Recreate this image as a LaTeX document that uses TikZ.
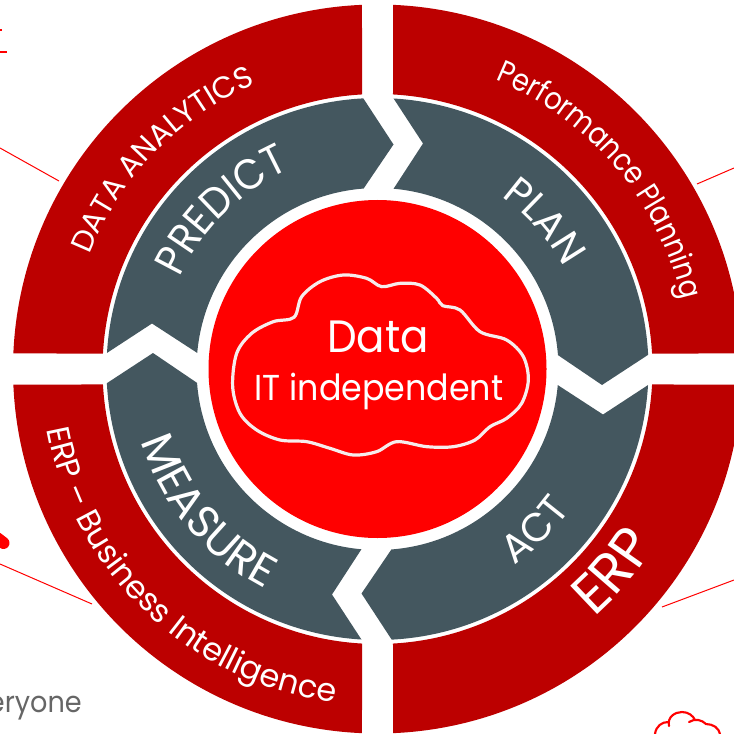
\documentclass[tikz,border=0pt]{standalone}
\usepackage{fontspec}
\usetikzlibrary{decorations.text}
\setmainfont{Poppins}[FakeStretch=0.925]
\newfontfamily\arcfont{Poppins}
\newfontfamily\arcmid{Poppins}[FakeStretch=0.93]
\newfontfamily\arcnarrow{Poppins}[FakeStretch=0.87]
\definecolor{ringred}{HTML}{BC0000}
\definecolor{slate}{HTML}{44575F}
\definecolor{corered}{HTML}{FF0000}
\definecolor{wordgrey}{HTML}{666666}
\definecolor{cloudline}{HTML}{F6ECEC}
\tikzset{
  ringseg/.style={fill=ringred,draw=none},
  stepseg/.style={fill=slate,draw=none},
  leader/.style={draw=corered,line width=0.75pt},
  corelabel/.style={text=white,anchor=base,inner sep=0pt,outer sep=0pt},
  edgecloud/.style={draw=corered,line width=1.6pt,line cap=round},
}
\newcommand{\sz}[1]{\fontsize{#1}{#1}\selectfont}
% font command, font size, text, mid angle, radius, +1 clockwise / -1 counter-clockwise
\newcommand{\arclabel}[6]{%
  \path[decorate,decoration={text along path,text color=white,text align=center,
     text={|#1\sz{#2}|#3}}]
     ({#4+#6*70}:#5) arc[start angle={#4+#6*70},end angle={#4-#6*70},radius=#5];}
\begin{document}
\begin{tikzpicture}[x=0.75pt,y=0.75pt]
\useasboundingbox (0,0) rectangle (734,733);
\clip (0,0) rectangle (734,733);
\begin{scope}[shift={(377.5,364)}]
  % leaders
  \coordinate (la1) at (-377.5,221); \coordinate (lb1) at (-318.5,188);
  \coordinate (la2) at (356.5,201);  \coordinate (lb2) at (319.5,185);
  \coordinate (la3) at (-377.5,-195);\coordinate (lb3) at (-285.5,-235);
  \coordinate (la4) at (356.5,-211); \coordinate (lb4) at (284.5,-238);
  \draw[leader] (la1) -- (lb1);
  \draw[leader] (la2) -- (lb2);
  \draw[leader] (la3) -- (lb3);
  \draw[leader] (la4) -- (lb4);
  % outer ring and step ring
  \foreach \a in {0,-90,-180,-270}{
    \fill[ringseg,rotate=\a] (87.56:364.5) arc[start angle=87.56,end angle=2.44,radius=364.5]
       -- (3.23:275) arc[start angle=3.23,end angle=86.77,radius=275] -- cycle;
    \fill[stepseg,rotate=\a] (86.6:271) -- (45.5,225.5) -- (84.9:181)
       arc[start angle=84.9,end angle=4.4,radius=181]
       -- (224.5,-16) -- (3:271)
       arc[start angle=3,end angle=86.6,radius=271] -- cycle;
  }
  % core
  \node[circle,fill=corered,draw=none,minimum size=253.5pt,inner sep=0pt] (core) at (0,0) {};
  \begin{scope}[shift={(-157.5,109)},x=0.25pt,y=-0.25pt]
    \draw[cloudline,line width=2.4pt,line join=round] plot[smooth cycle,tension=0.55] coordinates {
      (222,172) (245,110) (300,65) (370,45) (440,55) (485,80) (540,70) (600,75) (650,115)
      (668,137) (720,150) (780,215) (860,240) (910,290) (925,360) (905,430) (860,475)
      (810,500) (765,540) (700,560) (620,560) (530,545) (470,575) (400,585) (330,565)
      (260,545) (180,540) (110,510) (60,460) (38,380) (50,280) (95,220) (160,185)};
  \end{scope}
  \node[corelabel,font=\sz{34}] (data) at (0.5,17) {Data};
  \node[corelabel,font=\sz{27}] (itind) at (1.5,-31) {IT independent};
  % curved labels
  \arclabel{\arcfont}{22.7}{DATA ANALYTICS}{135.8}{310}{1}
  \arclabel{\arcmid}{32}{PREDICT}{134.5}{218}{1}
  \arclabel{\arcfont}{30}{PLAN}{41.5}{212}{1}
  \arclabel{\arcnarrow}{23.3}{Performance Planning}{40.3}{312}{1}
  \arclabel{\arcfont}{33.5}{MEASURE}{220}{247}{-1}
  \arclabel{\arcfont}{24}{ERP – Business Intelligence}{226.5}{336}{-1}
  \arclabel{\arcfont}{30}{ACT}{-45.6}{239}{-1}
  \arclabel{\arcfont}{42}{ERP}{-40.6}{329}{-1}
\end{scope}
% cropped neighbours at the picture edge
\node[text=wordgrey,anchor=base east,inner sep=0pt,font=\sz{22}] (word) at (82,21) {eryone};
\draw[corered,line width=2.2pt] (0,681) -- (7,681);
\draw[corered,line width=1.5pt] (0,703) -- (1.5,703);
\draw[corered,line width=9pt,line cap=round] (-3,195) -- (3.5,190);
\draw[edgecloud] (655,-1) .. controls (656,7) and (662,11) .. (668,11);
\draw[edgecloud] (669,7) .. controls (667,16) and (675,21) .. (682,21)
  .. controls (689,21) and (693,17) .. (695,13);
\draw[edgecloud] (689,11) .. controls (695,15) and (702,13) .. (706,9)
  .. controls (713,9) and (719,5) .. (720,-1);
\end{tikzpicture}
\end{document}
